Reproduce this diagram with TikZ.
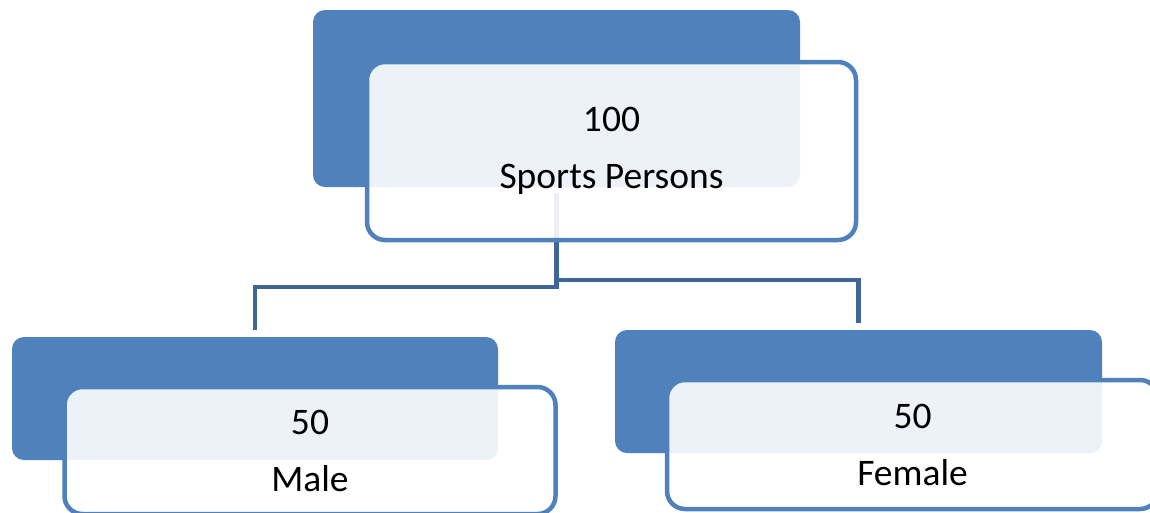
\documentclass[tikz,border=0pt]{standalone}
\usepackage{fontspec}
\setmainfont{Carlito}
\definecolor{accent}{RGB}{79,129,189}
\definecolor{connc}{RGB}{64,101,151}
\tikzset{
  backbox/.style={rectangle, fill=accent, rounded corners=12pt, inner sep=0pt},
  frontbox/.style={rectangle, draw=accent, line width=4.5pt, fill=white, fill opacity=0.9, text opacity=1,
    rounded corners=18pt, inner sep=0pt, align=center, font=\fontsize{37.5}{57}\selectfont},
  conn/.style={draw=connc, line width=4.5pt}
}
\begin{document}
\begin{tikzpicture}[x=1pt,y=-1pt]
\useasboundingbox (0,0) rectangle (1150,512);
\clip (0,0) rectangle (1150,512);
\fill[white] (0,0) rectangle (1150,512);
% back boxes
\node[backbox, minimum width=487pt, minimum height=177pt] (topblue) at (556.5,98.5) {};
\node[backbox, minimum width=486pt, minimum height=123pt] (maleblue) at (255,398.5) {};
\node[backbox, minimum width=487pt, minimum height=123pt] (femaleblue) at (858.5,391.5) {};
% connectors
\draw[conn] ([yshift=-6pt]topblue.south) -- (topblue.south |- 0,287) -| ([yshift=7pt]maleblue.north);
\draw[conn] ([yshift=-6pt]topblue.south) -- (topblue.south |- 0,280) -| ([yshift=7pt]femaleblue.north);
% front boxes
\node[frontbox, minimum width=489pt, minimum height=178pt] (topwhite) at (611.5,151) {100\\Sports Persons};
\node[frontbox, minimum width=491pt, minimum height=127pt] (malewhite) at (310,450.5) {50\\Male};
\node[frontbox, minimum width=491pt, minimum height=129pt] (femalewhite) at (912.5,444.5) {50\\Female};
\end{tikzpicture}
\end{document}
